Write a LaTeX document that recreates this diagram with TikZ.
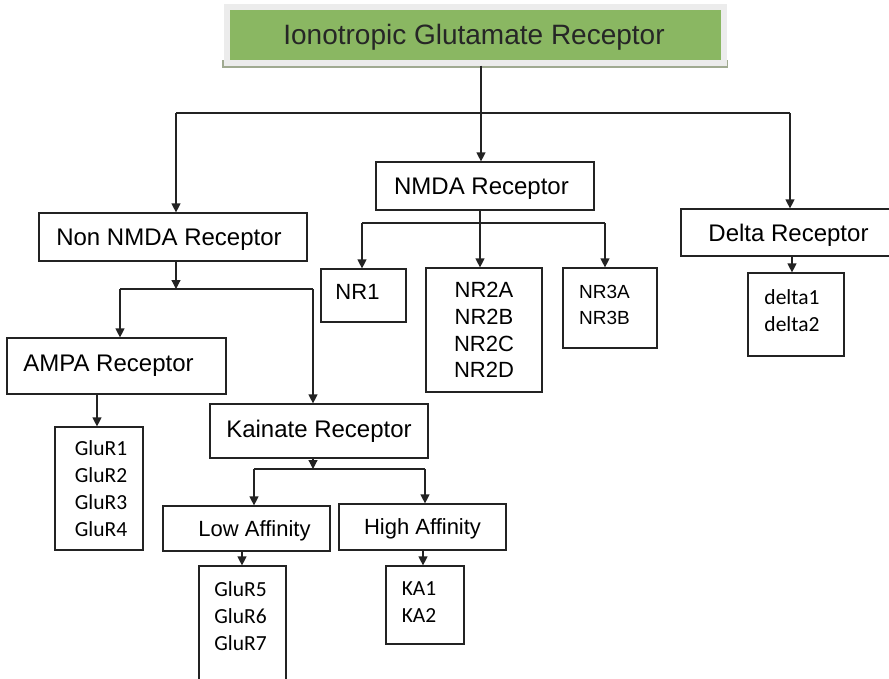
\documentclass[tikz,border=0pt]{standalone}
\usepackage{fontspec}
\setmainfont{Liberation Sans}
\newfontfamily\calfont{Carlito}
\usetikzlibrary{arrows.meta,calc}
\definecolor{grn}{RGB}{138,183,98}
\definecolor{frm}{RGB}{236,236,236}
\definecolor{shd}{RGB}{160,170,145}
\definecolor{ln}{RGB}{35,35,35}
\begin{document}
\begin{tikzpicture}[x=1pt,y=-1pt,
  bx/.style={draw=ln, line width=1.2pt, rectangle, inner sep=0pt, align=center},
  con/.style={draw=ln, line width=1.2pt},
  arr/.style={con, -{Triangle[length=9pt,width=9pt]}},
  big/.style={font=\fontsize{24}{28}\selectfont},
  mid/.style={font=\fontsize{22}{26.7}\selectfont},
  sml/.style={font=\fontsize{19}{26}\selectfont, align=left, inner sep=0pt},
  cal/.style={font=\calfont\fontsize{21.5}{27}\selectfont, align=left, inner sep=0pt},
  flat/.style={text depth=0pt}
]
\useasboundingbox (0,0) rectangle (889,678);
\clip (0,0) rectangle (889,678);

% title
\fill[shd] (222,60) rectangle (728,68);
\node[draw=frm, line width=6pt, fill=grn, minimum width=497pt, minimum height=56pt, inner sep=0pt, flat,
      font=\fontsize{28}{32}\selectfont, text=black!85] (top) at (475.5,34.5) {Ionotropic Glutamate Receptor\hspace*{3pt}};

% level 1 nodes
\node[bx, big, flat, minimum width=268pt, minimum height=48pt] (non) at (173,237) {Non NMDA Receptor\hspace*{8pt}};
\node[bx, big, flat, minimum width=218pt, minimum height=48pt] (nmda) at (485,186) {NMDA Receptor\hspace*{7pt}};
\node[bx, big, flat, minimum width=215pt, minimum height=47pt] (delta) at (788.5,232.5) {Delta Receptor};

% NMDA subunits
\node[bx, mid, minimum width=85pt, minimum height=53pt, text depth=8pt] (nr1) at (363.5,295.5) {NR1\hspace*{12pt}};
\node[bx, mid, minimum width=116pt, minimum height=124pt] (nr2) at (484,330) {NR2A\\NR2B\\NR2C\\NR2D};
\node[bx, minimum width=94pt, minimum height=80pt] (nr3) at (610,308) {};
\node[sml] (nr3t) at (604.5,305) {NR3A\\NR3B};

% delta subunits
\node[bx, minimum width=96pt, minimum height=83pt] (dl) at (796,314.5) {};
\node[cal] (dlt) at (792,310.5) {delta1\\delta2};

% non NMDA branch
\node[bx, big, minimum width=219pt, minimum height=56pt] (ampa) at (116.5,366) {AMPA Receptor\hspace*{16pt}};
\node[bx, big, minimum width=218pt, minimum height=54pt] (kain) at (319,431) {Kainate Receptor};
\node[bx, minimum width=88pt, minimum height=123pt] (glua) at (99,488.5) {};
\node[cal] (gluat) at (101,489) {GluR1\\GluR2\\GluR3\\GluR4};

\node[bx, mid, flat, minimum width=167pt, minimum height=45pt] (low) at (246.5,528.5) {\hspace*{16pt}Low Affinity};
\node[bx, mid, flat, minimum width=167pt, minimum height=46pt] (high) at (422.5,527) {High Affinity};

\node[bx, minimum width=87pt, minimum height=134pt] (glub) at (242.5,633) {};
\node[cal] (glubt) at (240.5,616) {GluR5\\GluR6\\GluR7};
\node[bx, minimum width=78pt, minimum height=78pt] (ka) at (425,605) {};
\node[cal] (kat) at (419,602.5) {KA1\\KA2};

% connectors from title
\coordinate (j0) at (481,113);
\coordinate (jl) at (176,113);
\coordinate (jr) at (790,113);
\draw[con] (top.south -| j0) -- (j0);
\draw[con] (jl) -- (jr);
\draw[arr] (j0) -- (j0 |- nmda.north);
\draw[arr] (jl) -- (jl |- non.north);
\draw[arr] (jr) -- (jr |- delta.north);

% NMDA connectors
\coordinate (n0) at (480,223);
\coordinate (n0l) at (362,223);
\coordinate (n0r) at (605,223);
\draw[arr] (nmda.south -| n0) -- (n0 |- nr2.north);
\draw[con] (n0l) -- (n0r);
\draw[arr] (n0l) -- (n0l |- nr1.north);
\draw[arr] (n0r) -- (n0r |- nr3.north);

% delta connector
\coordinate (d0) at (792,0);
\draw[arr] (delta.south -| d0) -- (dl.north -| d0);

% non NMDA connectors
\coordinate (k1) at (176,289);
\coordinate (k1l) at (120,289);
\coordinate (k1r) at (313,289);
\draw[arr] (non.south -| k1) -- (k1);
\draw[con] (k1l) -- (k1r);
\draw[arr] (k1l) -- (k1l |- ampa.north);
\draw[arr] (k1r) -- (k1r |- kain.north);

% AMPA connector
\coordinate (a1) at (97,0);
\draw[arr] (ampa.south -| a1) -- (glua.north -| a1);

% kainate connectors
\coordinate (c0) at (313,469);
\coordinate (c0l) at (254,469);
\coordinate (c0r) at (425,469);
\draw[arr] (kain.south -| c0) -- (c0);
\draw[con] (c0l) -- (c0r);
\draw[arr] (c0l) -- (c0l |- low.north);
\draw[arr] (c0r) -- (c0r |- high.north);

% affinity connectors
\coordinate (l1) at (242,0);
\coordinate (h1) at (423,0);
\draw[arr] (low.south -| l1) -- (glub.north -| l1);
\draw[arr] (high.south -| h1) -- (ka.north -| h1);
\end{tikzpicture}
\end{document}
